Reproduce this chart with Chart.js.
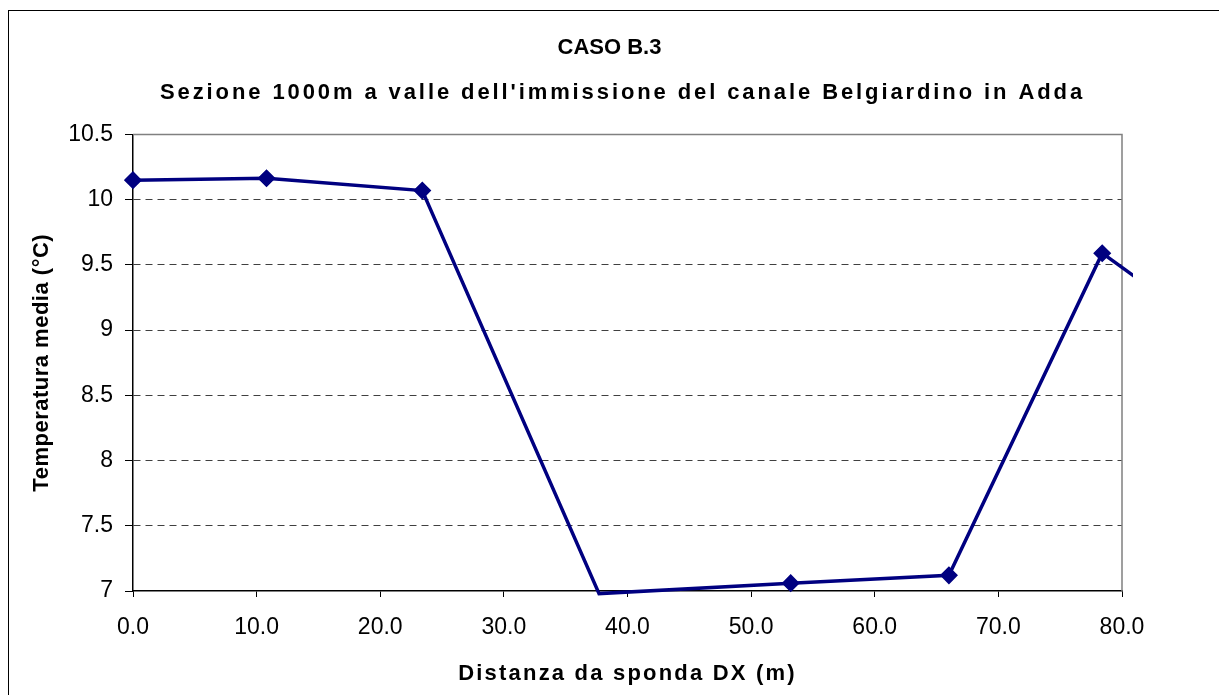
<!DOCTYPE html>
<html>
<head>
<meta charset="utf-8">
<script src="https://cdn.jsdelivr.net/npm/chart.js@4/dist/chart.umd.min.js"></script>
<style>
  html, body { margin: 0; padding: 0; background: #fff; overflow: hidden; }
  #wrap { position: relative; width: 1219px; height: 695px; overflow: hidden; }
  #frame { position: absolute; left: 8px; top: 10px; width: 1300px; height: 800px; border: 1px solid #000; }
  canvas { position: absolute; left: 0; top: 0; }
</style>
</head>
<body>
<div id="wrap">
  <div id="frame"></div>
  <canvas id="myChart" width="1219" height="695"></canvas>
</div>
<script>
// distanza dalla sponda DX (m) e temperatura media (°C)
const distanze = [0.0, 10.8, 23.4, 37.7, 53.2, 66.0, 78.4, 90.0];
const temperature = [10.15, 10.165, 10.07, 6.98, 7.06, 7.12, 9.59, 8.80];
const titolo = 'CASO B.3';
const sottotitolo = "Sezione 1000m a valle dell'immissione del canale Belgiardino in Adda";
const titoloX = 'Distanza da sponda DX (m)';
const titoloY = 'Temperatura media (°C)';
const xMin = 0, xMax = 80, xStep = 10;
const yMin = 7, yMax = 10.5, yStep = 0.5;

const FONT = "'Liberation Sans', Arial, sans-serif";

// testo spaziato come nell'originale (titoli)
function spaced(obj, method, spacing, dx) {
  if (!obj || obj['_sp_' + method]) return;
  const orig = obj[method];
  obj[method] = function () {
    const ctx = this.ctx;
    ctx.save();
    ctx.letterSpacing = spacing;
    if (dx) ctx.translate(dx, 0);
    orig.apply(this, arguments);
    ctx.restore();
  };
  obj['_sp_' + method] = true;
}

const letterSpacing = {
  id: 'letterSpacing',
  beforeDraw(chart) {
    chart.boxes.forEach(b => {
      if (b.axis || !b.options) return;
      if (b.options.text === sottotitolo) spaced(b, 'draw', '2.9px', 13);
    });
    spaced(chart.scales.x, 'drawTitle', '2.2px', 0);
    spaced(chart.scales.y, 'drawTitle', '0.5px', 0);
  }
};

// bordo grigio sopra e a destra dell'area del grafico
const plotFrame = {
  id: 'plotFrame',
  beforeDatasetsDraw(chart) {
    const { ctx, chartArea: a } = chart;
    ctx.save();
    ctx.strokeStyle = '#808080';
    ctx.lineWidth = 1.5;
    ctx.beginPath();
    ctx.moveTo(a.left, a.top);
    ctx.lineTo(a.right, a.top);
    ctx.lineTo(a.right, a.bottom);
    ctx.stroke();
    ctx.restore();
  }
};

new Chart('myChart', {
  type: 'line',
  data: {
    datasets: [{
      data: distanze.map((x, i) => ({ x: x, y: temperature[i] })),
      borderColor: '#000080',
      backgroundColor: '#000080',
      borderWidth: 3.5,
      tension: 0,
      pointStyle: 'rectRot',
      pointRadius: c => (c.raw && c.raw.y < yMin ? 0 : 8),
      pointBorderWidth: 1.5,
      clip: { left: 10, top: 10, right: 11, bottom: 5 }
    }]
  },
  options: {
    responsive: false,
    animation: false,
    devicePixelRatio: 1,
    events: [],
    layout: { padding: 0 },
    plugins: {
      legend: { display: false },
      tooltip: { enabled: false },
      title: {
        display: true,
        text: titolo,
        color: '#000',
        font: { family: FONT, size: 22, weight: 'bold' },
        padding: { top: 34.8, bottom: 0 }
      },
      subtitle: {
        display: true,
        text: sottotitolo,
        color: '#000',
        font: { family: FONT, size: 22, weight: 'bold' },
        padding: { top: 18.6, bottom: 28.3 }
      }
    },
    scales: {
      x: {
        type: 'linear',
        min: xMin,
        max: xMax,
        afterFit: s => { s.height = 104; },
        ticks: {
          stepSize: xStep,
          color: '#000',
          padding: 17.2,
          maxRotation: 0,
          font: { family: FONT, size: 23 },
          callback: v => v.toFixed(1)
        },
        grid: { drawOnChartArea: false, tickLength: 6, tickColor: '#000', tickWidth: 1 },
        border: { color: '#000', width: 1.5 },
        title: {
          display: true,
          text: titoloX,
          color: '#000',
          font: { family: FONT, size: 22, weight: 'bold' },
          padding: { top: 10, bottom: 7.8 }
        }
      },
      y: {
        min: yMin,
        max: yMax,
        afterFit: s => { s.width = 133; },
        ticks: {
          stepSize: yStep,
          color: '#000',
          padding: 12,
          font: { family: FONT, size: 23 },
          callback: v => String(Number(v.toFixed(1)))
        },
        grid: {
          color: c => (c.tick && (c.tick.value === yMin || c.tick.value === yMax) ? 'rgba(0,0,0,0)' : '#404040'),
          lineWidth: 1,
          tickLength: 8,
          tickColor: '#000',
          tickWidth: 1
        },
        border: { color: '#000', width: 1.5, dash: [7, 5] },
        title: {
          display: true,
          text: titoloY,
          color: '#000',
          font: { family: FONT, size: 22, weight: 'bold' },
          padding: { top: 28.8, bottom: 10 }
        }
      },
      // spazio vuoto a destra dell'area del grafico
      destra: {
        position: 'right',
        min: yMin,
        max: yMax,
        afterFit: s => { s.width = 97; },
        ticks: { display: false },
        grid: { display: false },
        border: { display: false }
      }
    }
  },
  plugins: [plotFrame, letterSpacing]
});
</script>
</body>
</html>
